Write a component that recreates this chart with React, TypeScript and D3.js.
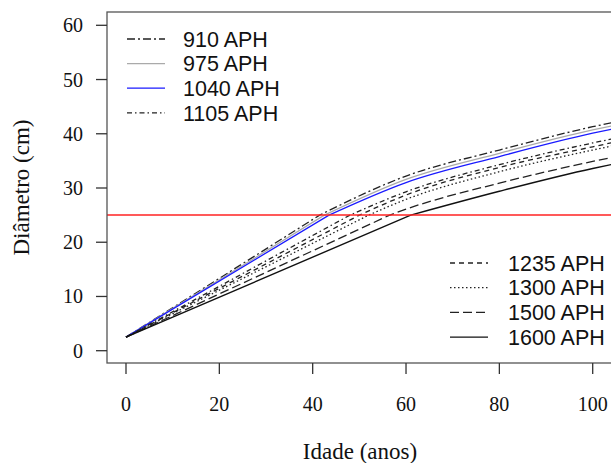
import React from "react";
import * as d3 from "d3";

const seriesNames = ["910 APH", "975 APH", "1040 APH", "1105 APH", "1235 APH", "1300 APH", "1500 APH", "1600 APH"];
const ages910 = [0, 41.5, 60, 80, 100, 105];
const diam910 = [2.5, 25, 32.2, 37.0, 41.3, 42.2];
const ages975 = [0, 42.5, 60, 80, 100, 105];
const diam975 = [2.5, 25, 31.6, 36.4, 40.7, 41.6];
const ages1040 = [0, 43.5, 60, 80, 100, 105];
const diam1040 = [2.5, 25, 31.0, 35.8, 40.1, 41.0];
const ages1105 = [0, 48, 60, 80, 100, 105];
const diam1105 = [2.5, 25, 29.3, 34.3, 38.3, 39.2];
const ages1235 = [0, 50, 60, 80, 100, 105];
const diam1235 = [2.5, 25, 28.7, 33.8, 37.6, 38.5];
const ages1300 = [0, 52, 60, 80, 100, 105];
const diam1300 = [2.5, 25, 27.9, 33.0, 37.0, 37.9];
const ages1500 = [0, 56.5, 60, 80, 100, 105];
const diam1500 = [2.5, 25, 26.1, 30.9, 34.9, 35.8];
const ages1600 = [0, 61, 80, 100, 105];
const diam1600 = [2.5, 25, 29.4, 33.6, 34.5];
const xTicks = [0, 20, 40, 60, 80, 100];
const yTicks = [0, 10, 20, 30, 40, 50, 60];
const refLine = 25;

const allAges = [ages910, ages975, ages1040, ages1105, ages1235, ages1300, ages1500, ages1600];
const allDiam = [diam910, diam975, diam1040, diam1105, diam1235, diam1300, diam1500, diam1600];

const styles = [
  { color: "#222", dash: "8,3,2,3", w: 1.3 },
  { color: "#aaa", dash: "", w: 1.3 },
  { color: "#1a1aff", dash: "", w: 1.3 },
  { color: "#222", dash: "5,3,1.5,3", w: 1.3 },
  { color: "#222", dash: "5,4", w: 1.3 },
  { color: "#222", dash: "1.5,2.5", w: 1.3 },
  { color: "#222", dash: "9,4", w: 1.3 },
  { color: "#111", dash: "", w: 1.4 },
];

export default function App() {
  const W = 611, H = 463;
  const x = d3.scaleLinear().domain([0, 100]).range([126, 592.7]);
  const y = d3.scaleLinear().domain([0, 60]).range([350.7, 25.3]);
  const left = 107, top = 12, bottom = 363, right = 612;
  const smooth = d3
    .line<[number, number]>()
    .x((d) => x(d[0]))
    .y((d) => y(d[1]))
    .curve(d3.curveMonotoneX);
  const makePath = (ages: number[], diams: number[]) => {
    const pts = ages.map((a, j) => [a, diams[j]] as [number, number]);
    const start = `M${x(pts[0][0])},${y(pts[0][1])}`;
    const rest = (smooth(pts.slice(1)) || "").replace(/^M/, "L");
    return start + rest;
  };
  const serif = "'Liberation Serif', 'Times New Roman', serif";
  const sans = "'Liberation Sans', Arial, sans-serif";
  const leg1 = [0, 1, 2, 3];
  const leg2 = [4, 5, 6, 7];
  return (
    <svg width={W} height={H} style={{ position: "absolute", left: 0, top: 0, background: "#fff" }}>
      <defs>
        <clipPath id="pc">
          <rect x={left} y={top} width={right - left} height={bottom - top} />
        </clipPath>
      </defs>
      <g clipPath="url(#pc)">
        {allAges.map((ages, i) => (
          <path
            key={i}
            d={makePath(ages, allDiam[i])}
            fill="none"
            stroke={styles[i].color}
            strokeWidth={styles[i].w}
            strokeDasharray={styles[i].dash}
          />
        ))}
        <line x1={left} x2={right} y1={y(refLine)} y2={y(refLine)} stroke="#f22" strokeWidth={1.5} />
      </g>
      <rect x={left} y={top} width={right - left} height={bottom - top} fill="none" stroke="#555" strokeWidth={1.3} />
      {yTicks.map((t) => (
        <g key={t}>
          <line x1={96} x2={left} y1={y(t)} y2={y(t)} stroke="#333" strokeWidth={1.3} />
          <text x={83} y={y(t)} dy="0.35em" textAnchor="end" fontFamily={serif} fontSize={20} fill="#111">
            {t}
          </text>
        </g>
      ))}
      {xTicks.map((t) => (
        <g key={t}>
          <line x1={x(t)} x2={x(t)} y1={bottom} y2={374} stroke="#333" strokeWidth={1.3} />
          <text x={x(t)} y={411} textAnchor="middle" fontFamily={serif} fontSize={20} fill="#111">
            {t}
          </text>
        </g>
      ))}
      <text x={360} y={459} textAnchor="middle" fontFamily={serif} fontSize={23} fill="#111">
        Idade (anos)
      </text>
      <text
        transform={`translate(29,${(top + bottom) / 2}) rotate(-90)`}
        textAnchor="middle"
        fontFamily={serif}
        fontSize={23}
        fill="#111"
      >
        Diâmetro (cm)
      </text>
      {leg1.map((i, k) => {
        const yy = 39 + k * 24.6;
        return (
          <g key={i}>
            <line x1={127} x2={165} y1={yy} y2={yy} stroke={styles[i].color} strokeWidth={styles[i].w} strokeDasharray={styles[i].dash} />
            <text x={183} y={yy} dy="0.36em" fontFamily={sans} fontSize={21.5} fill="#111">
              {seriesNames[i]}
            </text>
          </g>
        );
      })}
      {leg2.map((i, k) => {
        const yy = 263 + k * 24.7;
        return (
          <g key={i}>
            <line x1={450} x2={488} y1={yy} y2={yy} stroke={styles[i].color} strokeWidth={styles[i].w} strokeDasharray={styles[i].dash} />
            <text x={508} y={yy} dy="0.36em" fontFamily={sans} fontSize={21.5} fill="#111">
              {seriesNames[i]}
            </text>
          </g>
        );
      })}
    </svg>
  );
}
